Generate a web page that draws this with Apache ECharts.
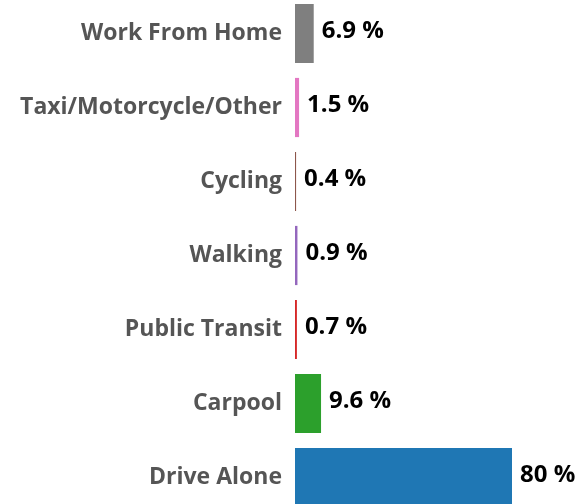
<!DOCTYPE html>
<html>
<head>
<meta charset="utf-8">
<script src="https://cdn.jsdelivr.net/npm/echarts@6/dist/echarts.min.js"></script>
<style>
html, body { margin: 0; padding: 0; background: #fff; }
#chart { width: 587px; height: 504px; }
</style>
</head>
<body>
<div id="chart"></div>
<script>
// 通勤方式占比（自下而上）
var categories = ['Drive Alone', 'Carpool', 'Public Transit', 'Walking', 'Cycling', 'Taxi/Motorcycle/Other', 'Work From Home'];
var values = [80, 9.6, 0.7, 0.9, 0.4, 1.5, 6.9];
var colors = ['#1f77b4', '#2ca02c', '#d62728', '#9467bd', '#8c564b', '#e377c2', '#7f7f7f'];

var barData = [];
for (var i = 0; i < values.length; i++) {
	barData.push({
		value: values[i],
		itemStyle: { color: colors[i] }
	});
}

var myChart = echarts.init(document.getElementById('chart'));
var option = {
	animation: false,
	grid: {
		left: 295,
		width: 271.25,
		top: -3.5,
		height: 518,
		outerBoundsMode: 'none'
	},
	xAxis: {
		type: 'value',
		min: 0,
		max: 100,
		show: false
	},
	yAxis: {
		type: 'category',
		data: categories,
		axisLine: { show: false },
		axisTick: { show: false },
		axisLabel: {
			margin: 13,
			padding: [5, 0, 0, 0],
			color: '#555555',
			fontFamily: 'Open Sans',
			fontWeight: 'bold',
			fontSize: 23
		}
	},
	series: [
		{
			type: 'bar',
			data: barData,
			barCategoryGap: '20%',
			label: {
				show: true,
				position: 'right',
				distance: 8,
				offset: [0, -2],
				color: '#000',
				fontFamily: 'Open Sans',
				fontWeight: 'bold',
				fontSize: 24,
				formatter: function (p) {
					return p.value + ' %';
				}
			}
		}
	]
};
myChart.setOption(option);
</script>
</body>
</html>
